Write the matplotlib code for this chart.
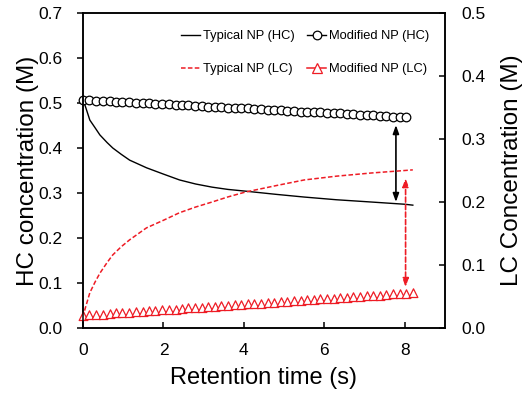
import numpy as np
import matplotlib
matplotlib.use("Agg")
import matplotlib.pyplot as plt
from matplotlib.path import Path
from matplotlib.patches import FancyArrowPatch
from matplotlib.lines import Line2D

plt.rcParams['font.family'] = ['Liberation Sans', 'DejaVu Sans']

# ---- data ----
t_typ = [0, 0.05, 0.17, 0.3, 0.42, 0.6, 0.74, 0.95, 1.16, 1.58, 2.0, 2.4, 2.8,
         3.21, 3.6, 4.05, 4.8, 5.5, 6.3, 7.16, 8.0, 8.2]
hc_typ = [0.505, 0.495, 0.462, 0.445, 0.429, 0.412, 0.400, 0.386, 0.373, 0.356,
          0.342, 0.329, 0.320, 0.313, 0.308, 0.304, 0.297, 0.291, 0.285, 0.280,
          0.275, 0.273]
lc_typ = [0.017, 0.030, 0.056, 0.073, 0.087, 0.104, 0.116, 0.129, 0.140, 0.159,
          0.171, 0.183, 0.192, 0.200, 0.208, 0.216, 0.226, 0.235, 0.241, 0.246,
          0.250, 0.251]

t_mod = [0, 0.16, 0.33, 0.49, 0.66, 0.82, 0.98, 1.15, 1.31, 1.48,
         1.64, 1.80, 1.97, 2.13, 2.30, 2.46, 2.62, 2.79, 2.95, 3.12,
         3.28, 3.44, 3.61, 3.77, 3.94, 4.10, 4.26, 4.43, 4.59, 4.76,
         4.92, 5.08, 5.25, 5.41, 5.58, 5.74, 5.90, 6.07, 6.23, 6.40,
         6.56, 6.72, 6.89, 7.05, 7.22, 7.38, 7.54, 7.71, 7.87, 8.04, 8.20]
hc_mod = [0.507, 0.506, 0.505, 0.505, 0.504, 0.503, 0.502, 0.502, 0.501, 0.500,
          0.499, 0.498, 0.498, 0.497, 0.496, 0.495, 0.495, 0.494, 0.493, 0.492,
          0.491, 0.491, 0.490, 0.489, 0.488, 0.488, 0.487, 0.486, 0.485, 0.484,
          0.484, 0.483, 0.482, 0.481, 0.481, 0.480, 0.479, 0.478, 0.477, 0.477,
          0.476, 0.475, 0.474, 0.474, 0.473, 0.472, 0.471, 0.470, 0.470, 0.469]
lc_mod = [0.013, 0.014, 0.014, 0.015, 0.016, 0.017, 0.017, 0.018, 0.019, 0.019,
          0.020, 0.021, 0.022, 0.022, 0.023, 0.024, 0.025, 0.025, 0.026, 0.027,
          0.027, 0.028, 0.029, 0.030, 0.030, 0.031, 0.032, 0.032, 0.033, 0.034,
          0.035, 0.035, 0.036, 0.037, 0.038, 0.038, 0.039, 0.040, 0.040, 0.041,
          0.042, 0.043, 0.043, 0.044, 0.045, 0.045, 0.046, 0.047, 0.048, 0.048,
          0.049]

# arrows: (x, y_start, y_end)
arrow_hc = (7.78, 0.451, 0.280)   # left axis
arrow_lc = (8.02, 0.238, 0.065)   # right axis

labels = ['Typical NP (HC)', 'Modified NP (HC)', 'Typical NP (LC)', 'Modified NP (LC)']
x_ticks = [0, 2, 4, 6, 8]
yl_ticks = [0.0, 0.1, 0.2, 0.3, 0.4, 0.5, 0.6, 0.7]
yr_ticks = [0.0, 0.1, 0.2, 0.3, 0.4, 0.5]

# ---- figure ----
fig = plt.figure(figsize=(5.29, 3.97), dpi=100)
ax = fig.add_axes([83/529, 1-328/397, (445-83)/529, (328-13)/397])
ax2 = ax.twinx()

red = '#ee1c25'
tri = Path([(-1, 0), (1, 0), (0, 2.0), (-1, 0)],
           [Path.MOVETO, Path.LINETO, Path.LINETO, Path.CLOSEPOLY])

l1, = ax.plot(t_typ, hc_typ, color='black', lw=1.0, label=labels[0])
l2, = ax.plot(t_mod[:len(hc_mod)], hc_mod, color='black', lw=1.0, marker='o',
              ms=6.2, mfc='white', mec='black', mew=0.9, label=labels[1], clip_on=False)
l3, = ax2.plot(t_typ, lc_typ, color=red, lw=1.1, ls=(0, (3, 1.5)), label=labels[2])
l4, = ax2.plot(t_mod, lc_mod, color=red, lw=1.1, marker=tri, ms=12.5,
               mfc='white', mec=red, mew=0.9, label=labels[3], clip_on=False)
l4_leg = Line2D([], [], color=red, lw=1.1, marker='^', ms=6.5,
                mfc='white', mec=red, mew=0.9)

a1 = FancyArrowPatch((arrow_hc[0], arrow_hc[2]), (arrow_hc[0], arrow_hc[1]),
                     arrowstyle='<|-|>,head_length=5,head_width=1.8',
                     color='black', lw=1.2, shrinkA=0, shrinkB=0)
ax.add_patch(a1)
a2 = FancyArrowPatch((arrow_lc[0], arrow_lc[2]), (arrow_lc[0], arrow_lc[1]),
                     arrowstyle='<|-|>,head_length=5,head_width=1.8',
                     color=red, lw=1.2, ls=(0, (3, 1.5)), shrinkA=0, shrinkB=0)
ax2.add_patch(a2)

ax.set_xlim(0, 9)
ax.set_ylim(0, 0.7)
ax2.set_ylim(0, 0.5)
ax.set_xticks(x_ticks)
ax.set_yticks(yl_ticks)
ax.set_yticklabels([f'{v:.1f}' for v in yl_ticks])
ax2.set_yticks(yr_ticks)
ax2.set_yticklabels([f'{v:.1f}' for v in yr_ticks])

for a in (ax, ax2):
    for s in a.spines.values():
        s.set_linewidth(1.1)
ax.tick_params(axis='y', direction='out', length=4.5, width=1.1, labelsize=12.5, pad=10)
ax.tick_params(axis='x', direction='in', length=4.5, width=1.1, labelsize=12.5, pad=11)
ax2.tick_params(axis='y', direction='in', length=4, width=1.1, labelsize=12.5, pad=12)

ax.set_xlabel('Retention time (s)', fontsize=17, labelpad=6)
ax.set_ylabel('HC concentration (M)', fontsize=17.5, labelpad=0)
ax2.set_ylabel('LC Concentration (M)', fontsize=17.5, labelpad=11)

leg = ax2.legend([l1, l3, l2, l4_leg], [labels[0], labels[2], labels[1], labels[3]],
                 ncol=2, frameon=False, fontsize=9.3, loc='upper left',
                 bbox_to_anchor=(181/529, 1-30/397), bbox_transform=fig.transFigure,
                 borderpad=0, borderaxespad=0, handlelength=1.5, handletextpad=0.2,
                 columnspacing=0.95, labelspacing=1.65)

fig.savefig('out.png', dpi=100)
